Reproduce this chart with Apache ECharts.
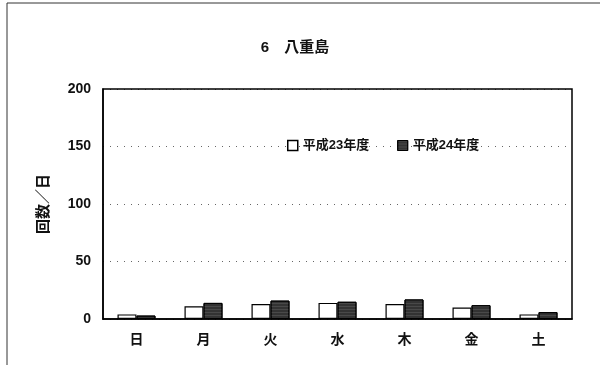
<!DOCTYPE html>
<html>
<head>
<meta charset="utf-8">
<script src="https://cdn.jsdelivr.net/npm/echarts@6/dist/echarts.min.js"></script>
<style>
  html, body { margin: 0; padding: 0; background: #fff; }
  #chart { width: 600px; height: 365px; }
</style>
</head>
<body>
<div id="chart"></div>
<script>
// 曜日別 回数／日
var days = ['日', '月', '火', '水', '木', '金', '土']
var h23 = [4, 11, 13, 14, 13, 10, 4]
var h24 = [3, 14, 16, 15, 17, 12, 6]
var yTicks = [0, 50, 100, 150, 200]

var font = '"Liberation Sans", "Noto Sans CJK JP", sans-serif'
var chart = echarts.init(document.getElementById('chart'))

chart.setOption({
  animation: false,
  textStyle: { fontFamily: font },
  graphic: [{
    type: 'rect',
    shape: { x: 7, y: 3, width: 600, height: 370 },
    style: { fill: 'none', stroke: '#333', lineWidth: 1 },
    silent: true
  }, {
    type: 'rect',
    shape: { x: 103, y: 89, width: 469, height: 230 },
    style: { fill: 'none', stroke: '#000', lineWidth: 1.5 },
    z: 10,
    silent: true
  }],
  title: {
    text: '6　八重島',
    left: 290,
    top: 35,
    textAlign: 'center',
    textStyle: { fontSize: 15, fontWeight: 'bold', color: '#111', fontFamily: font }
  },
  legend: {
    left: 282,
    top: 134,
    itemWidth: 10,
    itemHeight: 10,
    itemGap: 28,
    textStyle: { fontSize: 13, fontWeight: 'bold', color: '#111', fontFamily: font },
    data: [
      { name: '平成23年度', icon: 'rect', itemStyle: { color: '#fff', borderColor: '#000', borderWidth: 1.5 } },
      { name: '平成24年度', icon: 'rect', itemStyle: { color: '#333', borderColor: '#000', borderWidth: 1 } }
    ]
  },
  grid: { left: 103, right: 28, top: 89, bottom: 46 },
  xAxis: {
    type: 'category',
    data: days,
    axisTick: { show: false },
    axisLine: { lineStyle: { color: '#000', width: 1.5 } },
    axisLabel: { fontSize: 14, fontWeight: 'bold', color: '#111', margin: 14 }
  },
  yAxis: {
    type: 'value',
    min: yTicks[0],
    max: yTicks[yTicks.length - 1],
    interval: 50,
    name: '回数／日',
    nameLocation: 'middle',
    nameGap: 52,
    nameRotate: 90,
    nameTextStyle: { fontSize: 15, fontWeight: 'bold', color: '#111' },
    axisLine: { show: true, lineStyle: { color: '#000', width: 1.5 } },
    axisTick: { show: false },
    axisLabel: { fontSize: 14, fontWeight: 'bold', color: '#111', margin: 12 },
    splitLine: { lineStyle: { color: '#666', type: [1, 6], width: 1 } }
  },
  series: [{
    name: '平成23年度',
    type: 'bar',
    data: h23,
    barWidth: 19,
    barGap: '0%',
    itemStyle: { color: '#fff', borderColor: '#000', borderWidth: 1.2 }
  }, {
    name: '平成24年度',
    type: 'bar',
    data: h24,
    barWidth: 19,
    itemStyle: {
      color: '#333',
      borderColor: '#000',
      borderWidth: 1,
      decal: { symbol: 'rect', symbolSize: 0.5, color: 'rgba(200,200,200,0.6)', dashArrayX: [1, 0], dashArrayY: [1, 2], rotation: 0 }
    }
  }]
})
</script>
</body>
</html>
